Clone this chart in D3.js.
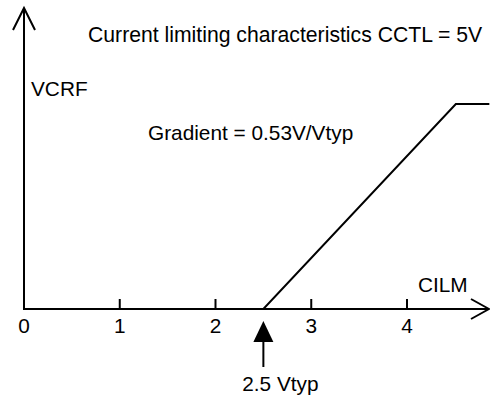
<!DOCTYPE html>
<html>
<head>
<meta charset="utf-8">
<script src="https://cdn.jsdelivr.net/npm/d3@7"></script>
<style>
  html, body { margin: 0; padding: 0; background: #fff; }
  svg { display: block; }
  text { font-family: "Liberation Sans", Arial, sans-serif; fill: #000; }
</style>
</head>
<body>
<svg id="chart" width="490" height="398"></svg>
<script>
// ---- data ----
const xTicks = [0, 1, 2, 3, 4];
const xTickLabels = ["0", "1", "2", "3", "4"];
const curveX = [0, 2.5, 4.51, 4.86];      // CILM (V)
const curveY = [0, 0, 1.07, 1.07];        // VCRF (V)
const markerX = 2.5;
const title = "Current limiting characteristics CCTL = 5V";
const yLabel = "VCRF";
const xLabel = "CILM";
const gradientLabel = "Gradient = 0.53V/Vtyp";
const markerLabel = "2.5 Vtyp";

// ---- layout ----
const svg = d3.select("#chart");
const x = d3.scaleLinear().domain([0, 4]).range([24, 407]);
const y = d3.scaleLinear().domain([0, 1.07]).range([309, 104]);
const fs = 20.8;

// axes
const axisY0 = y(0), axisX0 = x(0);
svg.append("line").attr("x1", axisX0).attr("x2", 489).attr("y1", axisY0).attr("y2", axisY0)
  .attr("stroke", "#000").attr("stroke-width", 2);
svg.append("line").attr("x1", axisX0).attr("x2", axisX0).attr("y1", 9).attr("y2", axisY0 + 1)
  .attr("stroke", "#000").attr("stroke-width", 2);

// arrowheads (open chevrons)
svg.append("path").attr("d", `M${axisX0 - 11},30 L${axisX0},8 L${axisX0 + 11},30`)
  .attr("fill", "none").attr("stroke", "#000").attr("stroke-width", 2);
svg.append("path").attr("d", `M471,${axisY0 - 10} L489,${axisY0} L471,${axisY0 + 10}`)
  .attr("fill", "none").attr("stroke", "#000").attr("stroke-width", 2);

// ticks
svg.selectAll(".tick").data(xTicks.filter(d => d > 0)).enter().append("line")
  .attr("x1", d => x(d)).attr("x2", d => x(d))
  .attr("y1", axisY0 - 10).attr("y2", axisY0 + 1)
  .attr("stroke", "#000").attr("stroke-width", 2);
svg.selectAll(".ticklabel").data(xTicks).enter().append("text")
  .attr("x", d => x(d)).attr("y", 333)
  .attr("text-anchor", "middle").attr("font-size", fs)
  .text((d, i) => xTickLabels[i]);

// characteristic curve
const pts = curveX.map((v, i) => [v, curveY[i]]);
svg.append("path")
  .attr("d", d3.line().x(d => x(d[0])).y(d => y(d[1]))(pts))
  .attr("fill", "none").attr("stroke", "#000").attr("stroke-width", 2);

// marker arrow at 2.5 Vtyp
const mx = x(markerX);
svg.append("path").attr("d", `M${mx},321 L${mx + 10},342 L${mx - 10},342 Z`).attr("fill", "#000");
svg.append("line").attr("x1", mx).attr("x2", mx).attr("y1", 340).attr("y2", 367)
  .attr("stroke", "#000").attr("stroke-width", 2);
svg.append("text").attr("x", mx + 17).attr("y", 391).attr("text-anchor", "middle")
  .attr("font-size", fs).text(markerLabel);

// labels
svg.append("text").attr("x", 88).attr("y", 42).attr("font-size", 21.2).text(title);
svg.append("text").attr("x", 31).attr("y", 96).attr("font-size", fs).text(yLabel);
svg.append("text").attr("x", 148).attr("y", 140).attr("font-size", fs).text(gradientLabel);
svg.append("text").attr("x", 418).attr("y", 292).attr("font-size", fs).text(xLabel);
</script>
</body>
</html>
